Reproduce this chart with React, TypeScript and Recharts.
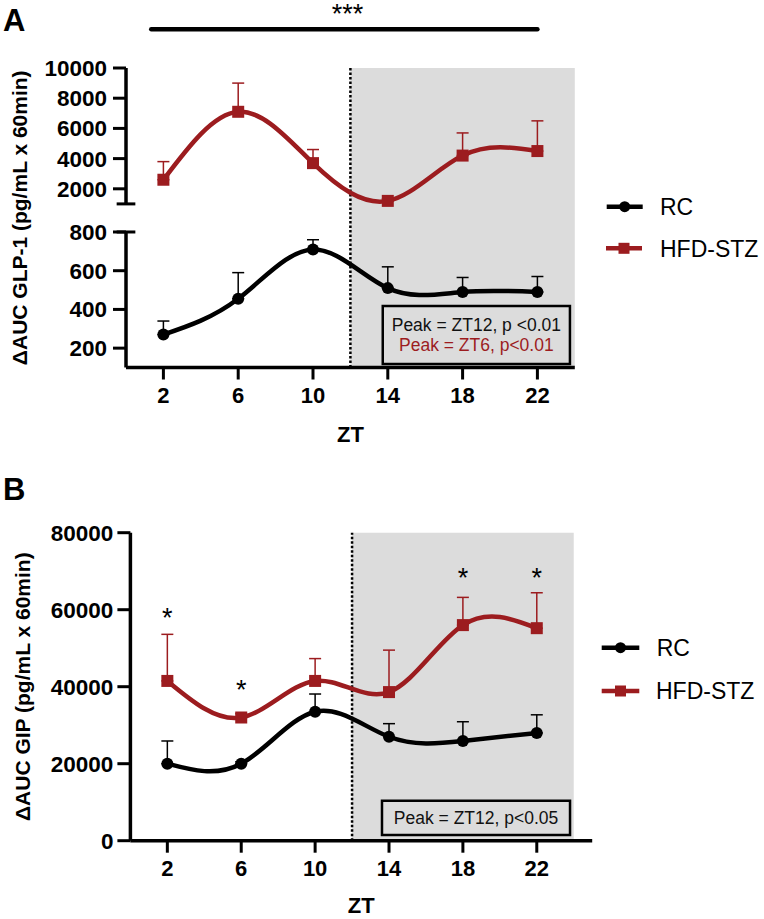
import React from 'react';
import {
  LineChart,
  Line,
  XAxis,
  YAxis,
  ErrorBar,
  ReferenceArea,
  ReferenceLine,
  ReferenceDot,
} from 'recharts';

// ---------- data ----------
const zt = [2, 6, 10, 14, 18, 22];

// Panel A: ΔAUC GLP-1
const glp1RC = [270, 455, 710, 510, 490, 490];
const glp1RCsem = [70, 135, 50, 110, 75, 80];
const glp1HFD = [2600, 7100, 3700, 1200, 4200, 4500];
const glp1HFDsem = [1200, 1900, 900, 150, 1500, 2000];

// Panel B: ΔAUC GIP
const gipRC = [20000, 20000, 33500, 27000, 25900, 28000];
const gipRCsem = [5900, 500, 4600, 3400, 5000, 4700];
const gipHFD = [41500, 32000, 41500, 38600, 56000, 55200];
const gipHFDsem = [12100, 1000, 5800, 10900, 7200, 9200];

// tick labels
const glpHiTicks = [2000, 4000, 6000, 8000, 10000];
const glpLoTicks = [200, 400, 600, 800];
const gipTicks = [0, 20000, 40000, 60000, 80000];

// significance annotations (panel B): x position, y position in data units
const gipStarX = [2, 6, 18, 22];
const gipStarY = [57900, 39300, 68300, 68300];

const seriesNames = ['RC', 'HFD-STZ'];
const glpBoxLines = ['Peak = ZT12, p <0.01', 'Peak = ZT6, p<0.01'];
const gipBoxLines = ['Peak = ZT12, p<0.05'];

// ---------- tables ----------
const glpData = zt.map((z, i) => ({
  zt: z,
  rc: glp1RC[i],
  rcErr: [0, glp1RCsem[i]],
  hfd: glp1HFD[i],
  hfdErr: [0, glp1HFDsem[i]],
}));

const gipData = zt.map((z, i) => ({
  zt: z,
  rc: gipRC[i],
  rcErr: [0, gipRCsem[i]],
  hfd: gipHFD[i],
  hfdErr: [0, gipHFDsem[i]],
}));

// ---------- styles ----------
const RED = '#9c1c1f';
const GRAY = '#dcdcdc';
const FONT = '"Liberation Sans", Arial, Helvetica, sans-serif';

const axisLineStyle = { stroke: '#000', strokeWidth: 3.5 };
const tickLineStyle = { stroke: '#000', strokeWidth: 3 };
const titleStyle = { textAnchor: 'middle' as const, fontSize: 21, fontWeight: 700, fill: '#000', fontFamily: FONT };

const YTick = (props: any) => {
  const { x, y, payload } = props;
  return (
    <text x={x} y={y} dy="0.355em" textAnchor="end" fontSize={22.5} fontWeight={700} fontFamily={FONT} fill="#000">
      {payload.value}
    </text>
  );
};

const XTick = (props: any) => {
  const { x, y, payload } = props;
  return (
    <text x={x} y={y} dy="0.71em" textAnchor="middle" fontSize={22} fontWeight={700} fontFamily={FONT} fill="#000">
      {payload.value}
    </text>
  );
};

const SquareDot = (props: any) => {
  const { cx, cy } = props;
  if (cx == null || cy == null) return <g />;
  return <rect x={cx - 6} y={cy - 6} width={12} height={12} fill={RED} />;
};

const makeBoxLabel = (lines: string[], colors: string[]) => (props: any) => {
  const vb = props.viewBox || {};
  const { x = 0, y = 0, width = 0, height = 0 } = vb;
  const n = lines.length;
  const step = 20;
  const cy0 = y + height / 2 - ((n - 1) * step) / 2;
  return (
    <g>
      {lines.map((t, i) => (
        <text
          key={i}
          x={x + width / 2}
          y={cy0 + i * step}
          dy="0.36em"
          textAnchor="middle"
          fontSize={17.5}
          fontFamily={FONT}
          fill={colors[i]}
        >
          {t}
        </text>
      ))}
    </g>
  );
};

const W = 764;
const DOT_DASH = '2.5 2';

export default function App() {
  const marginA = { top: 68, right: 189.2, bottom: 32.5, left: 46 };
  const marginB = { top: 72.7, right: 171.8, bottom: 18.3, left: 50.4 };

  return (
    <div style={{ position: 'absolute', left: 0, top: 0, width: W, height: 919, background: '#fff' }}>
      {/* Panel A – upper segment (HFD-STZ) */}
      <div style={{ position: 'absolute', left: 0, top: 0 }}>
        <LineChart width={W} height={460} data={glpData} margin={marginA}>
          <XAxis
            dataKey="zt"
            type="number"
            domain={[0, 24]}
            ticks={zt}
            allowDataOverflow
            height={60}
            tick={false}
            tickLine={false}
            axisLine={false}
          />
          <YAxis
            type="number"
            domain={[-9834, 10000]}
            allowDataOverflow
            ticks={glpHiTicks}
            interval={0}
            width={80}
            axisLine={false}
            tickLine={tickLineStyle}
            tickSize={13}
            tickMargin={6}
            tick={<YTick />}
            label={{
              value: 'ΔAUC GLP-1 (pg/mL x 60min)',
              angle: -90,
              position: 'left',
              offset: 26,
              style: titleStyle,
            }}
          />
          <ReferenceArea x1={12} x2={24} fill={GRAY} fillOpacity={1} stroke="none" ifOverflow="visible" />
          <ReferenceLine x={12} stroke="#000" strokeWidth={2.5} strokeDasharray={DOT_DASH} />
          <ReferenceLine
            segment={[{ x: 0, y: 10000 }, { x: 0, y: 1000 }]}
            stroke="#000"
            strokeWidth={3.5}
            ifOverflow="visible"
          />
          <ReferenceLine
            segment={[{ x: -0.5, y: 1000 }, { x: 0.5, y: 1000 }]}
            stroke="#000"
            strokeWidth={3}
            ifOverflow="visible"
          />
          <ReferenceLine
            segment={[{ x: 1.35, y: 12560 }, { x: 22, y: 12560 }]}
            stroke="#000"
            strokeWidth={4.5}
            strokeLinecap="round"
            ifOverflow="visible"
          />
          <ReferenceDot
            x={11.84}
            y={13609}
            r={0}
            ifOverflow="visible"
            label={{ value: '***', position: 'center', fontSize: 27, fill: '#000', fontFamily: FONT }}
          />
          <Line
            type="natural"
            dataKey="hfd"
            stroke={RED}
            strokeWidth={4.5}
            dot={<SquareDot />}
            activeDot={false}
            isAnimationActive={false}
          >
            <ErrorBar dataKey="hfdErr" width={6} stroke={RED} strokeWidth={1.5} direction="y" />
          </Line>
        </LineChart>
      </div>

      {/* Panel A – lower segment (RC) + x axis */}
      <div style={{ position: 'absolute', left: 0, top: 0 }}>
        <LineChart width={W} height={460} data={glpData} margin={marginA}>
          <XAxis
            dataKey="zt"
            type="number"
            domain={[0, 24]}
            ticks={zt}
            interval={0}
            allowDataOverflow
            height={60}
            axisLine={axisLineStyle}
            tickLine={tickLineStyle}
            tickSize={12}
            tickMargin={8}
            tick={<XTick />}
            label={{ value: 'ZT', position: 'bottom', offset: -1, style: { ...titleStyle, fontSize: 22 } }}
          />
          <YAxis
            type="number"
            domain={[100, 1647]}
            allowDataOverflow
            ticks={glpLoTicks}
            interval={0}
            width={80}
            axisLine={false}
            tickLine={tickLineStyle}
            tickSize={13}
            tickMargin={6}
            tick={<YTick />}
          />
          <ReferenceLine
            segment={[{ x: 0, y: 800 }, { x: 0, y: 100 }]}
            stroke="#000"
            strokeWidth={3.5}
            ifOverflow="visible"
          />
          <ReferenceLine
            segment={[{ x: -0.5, y: 800 }, { x: 0.5, y: 800 }]}
            stroke="#000"
            strokeWidth={3}
            ifOverflow="visible"
          />
          <ReferenceArea
            x1={13.73}
            x2={23.74}
            y1={118}
            y2={417.7}
            fill={GRAY}
            fillOpacity={1}
            stroke="#000"
            strokeWidth={2.5}
            ifOverflow="visible"
            label={makeBoxLabel(glpBoxLines, ['#111', RED])}
          />
          <Line
            type="natural"
            dataKey="rc"
            stroke="#000"
            strokeWidth={4.5}
            dot={{ r: 6, fill: '#000', stroke: 'none' }}
            activeDot={false}
            isAnimationActive={false}
          >
            <ErrorBar dataKey="rcErr" width={6} stroke="#000" strokeWidth={1.5} direction="y" />
          </Line>
        </LineChart>
      </div>

      {/* Panel B */}
      <div style={{ position: 'absolute', left: 0, top: 460 }}>
        <LineChart width={W} height={459} data={gipData} margin={marginB}>
          <XAxis
            dataKey="zt"
            type="number"
            domain={[0, 25]}
            ticks={zt}
            interval={0}
            allowDataOverflow
            height={60}
            axisLine={axisLineStyle}
            tickLine={tickLineStyle}
            tickSize={12}
            tickMargin={8}
            tick={<XTick />}
            label={{ value: 'ZT', position: 'bottom', offset: -3, style: { ...titleStyle, fontSize: 22 } }}
          />
          <YAxis
            type="number"
            domain={[0, 80000]}
            allowDataOverflow
            ticks={gipTicks}
            interval={0}
            width={80}
            axisLine={axisLineStyle}
            tickLine={tickLineStyle}
            tickSize={13}
            tickMargin={4}
            tick={<YTick />}
            label={{
              value: 'ΔAUC GIP (pg/mL x 60min)',
              angle: -90,
              position: 'left',
              offset: 28,
              style: titleStyle,
            }}
          />
          <ReferenceArea x1={12} x2={24} fill={GRAY} fillOpacity={1} stroke="none" ifOverflow="visible" />
          <ReferenceLine x={12} stroke="#000" strokeWidth={2.5} strokeDasharray={DOT_DASH} />
          <ReferenceArea
            x1={13.62}
            x2={23.8}
            y1={1480}
            y2={10390}
            fill={GRAY}
            fillOpacity={1}
            stroke="#000"
            strokeWidth={2.5}
            ifOverflow="visible"
            label={makeBoxLabel(gipBoxLines, ['#111'])}
          />
          <Line
            type="natural"
            dataKey="rc"
            stroke="#000"
            strokeWidth={4.5}
            dot={{ r: 6, fill: '#000', stroke: 'none' }}
            activeDot={false}
            isAnimationActive={false}
          >
            <ErrorBar dataKey="rcErr" width={6} stroke="#000" strokeWidth={1.5} direction="y" />
          </Line>
          <Line
            type="natural"
            dataKey="hfd"
            stroke={RED}
            strokeWidth={4.5}
            dot={<SquareDot />}
            activeDot={false}
            isAnimationActive={false}
          >
            <ErrorBar dataKey="hfdErr" width={6} stroke={RED} strokeWidth={1.5} direction="y" />
          </Line>
          {gipStarX.map((x, i) => (
            <ReferenceDot
              key={i}
              x={x}
              y={gipStarY[i]}
              r={0}
              ifOverflow="visible"
              label={{ value: '*', position: 'center', fontSize: 27, fill: '#000', fontFamily: FONT }}
            />
          ))}
        </LineChart>
      </div>

      {/* panel letters and legends */}
      <svg
        width={W}
        height={919}
        style={{ position: 'absolute', left: 0, top: 0, pointerEvents: 'none' }}
      >
        <text x={3} y={31} fontSize={31} fontWeight={700} fontFamily={FONT} fill="#000">A</text>
        <text x={3} y={500} fontSize={31} fontWeight={700} fontFamily={FONT} fill="#000">B</text>

        {/* legend A */}
        <line x1={606.7} x2={642.7} y1={206.7} y2={206.7} stroke="#000" strokeWidth={4.5} />
        <circle cx={624.7} cy={206.7} r={5.5} fill="#000" />
        <text x={660} y={215} fontSize={23} fontFamily={FONT} fill="#000">{seriesNames[0]}</text>
        <line x1={606} x2={642} y1={248.3} y2={248.3} stroke={RED} strokeWidth={4.5} />
        <rect x={618.5} y={242.8} width={11} height={11} fill={RED} />
        <text x={660} y={256.5} fontSize={23} fontFamily={FONT} fill="#000">{seriesNames[1]}</text>

        {/* legend B */}
        <line x1={601.7} x2={639.3} y1={647.7} y2={647.7} stroke="#000" strokeWidth={4.5} />
        <circle cx={620.5} cy={647.7} r={5.5} fill="#000" />
        <text x={656.7} y={656} fontSize={23} fontFamily={FONT} fill="#000">{seriesNames[0]}</text>
        <line x1={601.7} x2={639.3} y1={691} y2={691} stroke={RED} strokeWidth={4.5} />
        <rect x={615} y={685.5} width={11} height={11} fill={RED} />
        <text x={656} y={699} fontSize={23} fontFamily={FONT} fill="#000">{seriesNames[1]}</text>
      </svg>
    </div>
  );
}
